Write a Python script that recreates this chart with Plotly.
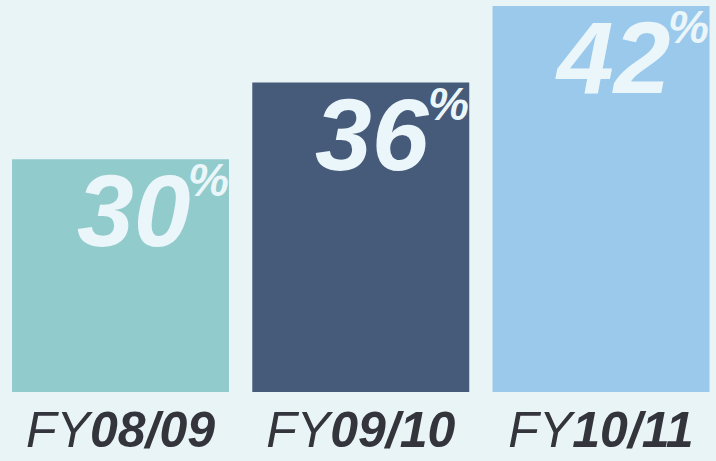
import plotly.graph_objects as go

periods = ["FY08/09", "FY09/10", "FY10/11"]
tick_labels = ["<i>FY<b>08/09</b></i>", "<i>FY<b>09/10</b></i>", "<i>FY<b>10/11</b></i>"]
shares = [30, 36, 42]
bar_colors = ["#92CBCC", "#465A7A", "#9AC9EC"]

BG = "#E8F4F5"
TEXT_LIGHT = "#EAF6F9"
TEXT_DARK = "#33343C"
FONT = "Liberation Sans, Arial, sans-serif"

fig = go.Figure(
    go.Bar(
        x=periods,
        y=shares,
        marker_color=bar_colors,
        marker_line_width=0,
        hoverinfo="skip",
    )
)

# big value in the top-right corner of each bar, small % beside it
for p, v in zip(periods, shares):
    fig.add_annotation(
        x=p, y=v, xref="x", yref="y",
        text=f"<b><i>{v}</i></b>",
        showarrow=False, xanchor="right", yanchor="top",
        xshift=70, yshift=6, borderpad=0,
        font=dict(family=FONT, size=102, color=TEXT_LIGHT),
    )
    fig.add_annotation(
        x=p, y=v, xref="x", yref="y",
        text="<b><i>%</i></b>",
        showarrow=False, xanchor="left", yanchor="top",
        xshift=66, yshift=6, borderpad=0,
        font=dict(family=FONT, size=46, color=TEXT_LIGHT),
    )

fig.update_layout(
    width=716,
    height=461,
    margin=dict(l=0, r=0, t=0, b=69),
    paper_bgcolor=BG,
    plot_bgcolor=BG,
    bargap=0.097,
    showlegend=False,
    xaxis=dict(
        tickmode="array",
        tickvals=periods,
        ticktext=tick_labels,
        tickfont=dict(family=FONT, size=50, color=TEXT_DARK),
        range=[-0.5016, 2.4786],
        showgrid=False,
        showline=False,
        zeroline=False,
        ticks="",
        ticklabelstandoff=4,
    ),
    yaxis=dict(
        range=[11.77, 42.47],
        visible=False,
        showgrid=False,
        zeroline=False,
    ),
)

fig.write_html(
    "out.html",
    config={"displayModeBar": False},
    post_script="document.body.style.margin='0';document.body.style.background='" + BG + "';",
)
